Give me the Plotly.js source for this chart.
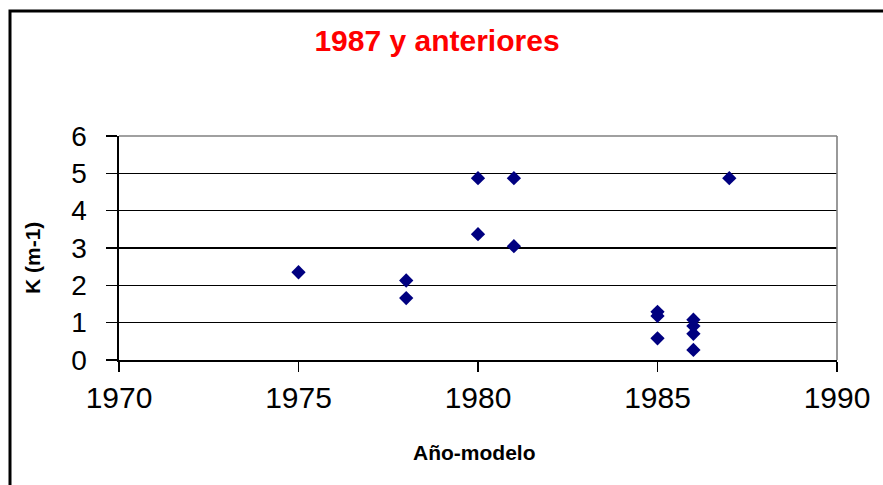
<!DOCTYPE html>
<html>
<head>
<meta charset="utf-8">
<script src="https://cdn.plot.ly/plotly-3.0.1.min.js"></script>
<style>html,body{margin:0;padding:0;background:#fff;}#chart{width:883px;height:485px;}</style>
</head>
<body>
<div id="chart"></div>
<script>
var modelYears = [1975, 1978, 1978, 1980, 1980, 1981, 1981, 1985, 1985, 1985, 1986, 1986, 1986, 1986, 1987];
var kValues    = [2.35, 2.13, 1.66, 4.87, 3.37, 4.87, 3.05, 1.29, 1.18, 0.58, 1.08, 0.91, 0.70, 0.27, 4.87];
var xTicks = [1970, 1975, 1980, 1985, 1990];
var yTicks = [0, 1, 2, 3, 4, 5, 6];
var chartTitle = "1987 y anteriores";
var xTitle = "Año-modelo";
var yTitle = "K (m-1)";

var FONT = "Liberation Sans, Arial, sans-serif";
var W = 883, H = 485, L = 119, R = 46, T = 136, B = 125;
var pw = W - L - R, ph = H - T - B;
function px2x(p){ return (p - L) / pw; }
function px2y(p){ return (H - B - p) / ph; }

var trace = {
  x: modelYears, y: kValues, type: 'scatter', mode: 'markers',
  marker: {symbol: 'diamond', size: 11, color: '#000080', line: {width: 0}},
  hoverinfo: 'x+y', showlegend: false
};

var layout = {
  width: W, height: H,
  margin: {l: L, r: R, t: T, b: B, pad: 0},
  paper_bgcolor: '#ffffff', plot_bgcolor: '#ffffff',
  font: {family: FONT, color: '#000000'},
  title: {
    text: chartTitle, xref: 'container', yref: 'container',
    x: 437 / W, xanchor: 'center', y: 1 - 40 / H, yanchor: 'middle',
    font: {family: FONT, size: 30, color: '#ff0000', weight: 'bold'}
  },
  xaxis: {
    range: [1970, 1990], tickvals: xTicks, ticktext: xTicks.map(String),
    showgrid: false, zeroline: false,
    showline: true, linecolor: '#000000', linewidth: 1.6,
    ticks: 'outside', ticklen: 10, tickwidth: 1.6, tickcolor: '#000000',
    tickfont: {family: FONT, size: 30, color: '#000000'},
    fixedrange: true
  },
  yaxis: {
    range: [0, 6], tickvals: yTicks, ticktext: yTicks.map(String),
    showgrid: true, gridcolor: '#000000', gridwidth: 1.6, zeroline: false,
    showline: true, linecolor: '#000000', linewidth: 1.6,
    ticks: 'outside', ticklen: 11, tickwidth: 1.6, tickcolor: '#000000',
    ticklabelstandoff: 14,
    tickfont: {family: FONT, size: 28, color: '#000000'},
    fixedrange: true
  },
  shapes: [
    {type: 'line', xref: 'paper', yref: 'paper', x0: 0, x1: 1, y0: 1, y1: 1,
     line: {color: '#808080', width: 1.6}},
    {type: 'line', xref: 'paper', yref: 'paper', x0: 1, x1: 1, y0: 0, y1: 1,
     line: {color: '#808080', width: 1.6}},
    {type: 'rect', xref: 'paper', yref: 'paper',
     x0: px2x(10), x1: px2x(W + 20), y0: px2y(11), y1: px2y(H + 20),
     line: {color: '#000000', width: 3}, fillcolor: 'rgba(0,0,0,0)', layer: 'above'}
  ],
  annotations: [
    {text: xTitle, xref: 'paper', yref: 'paper', x: px2x(473.5), y: px2y(452),
     xanchor: 'center', yanchor: 'middle', showarrow: false,
     font: {family: FONT, size: 21, color: '#000000', weight: 'bold'}},
    {text: yTitle, xref: 'paper', yref: 'paper', x: px2x(32), y: px2y(258),
     xanchor: 'center', yanchor: 'middle', showarrow: false, textangle: -90,
     font: {family: FONT, size: 21, color: '#000000', weight: 'bold'}}
  ]
};

Plotly.newPlot('chart', [trace], layout, {displayModeBar: false, staticPlot: true});
</script>
</body>
</html>
